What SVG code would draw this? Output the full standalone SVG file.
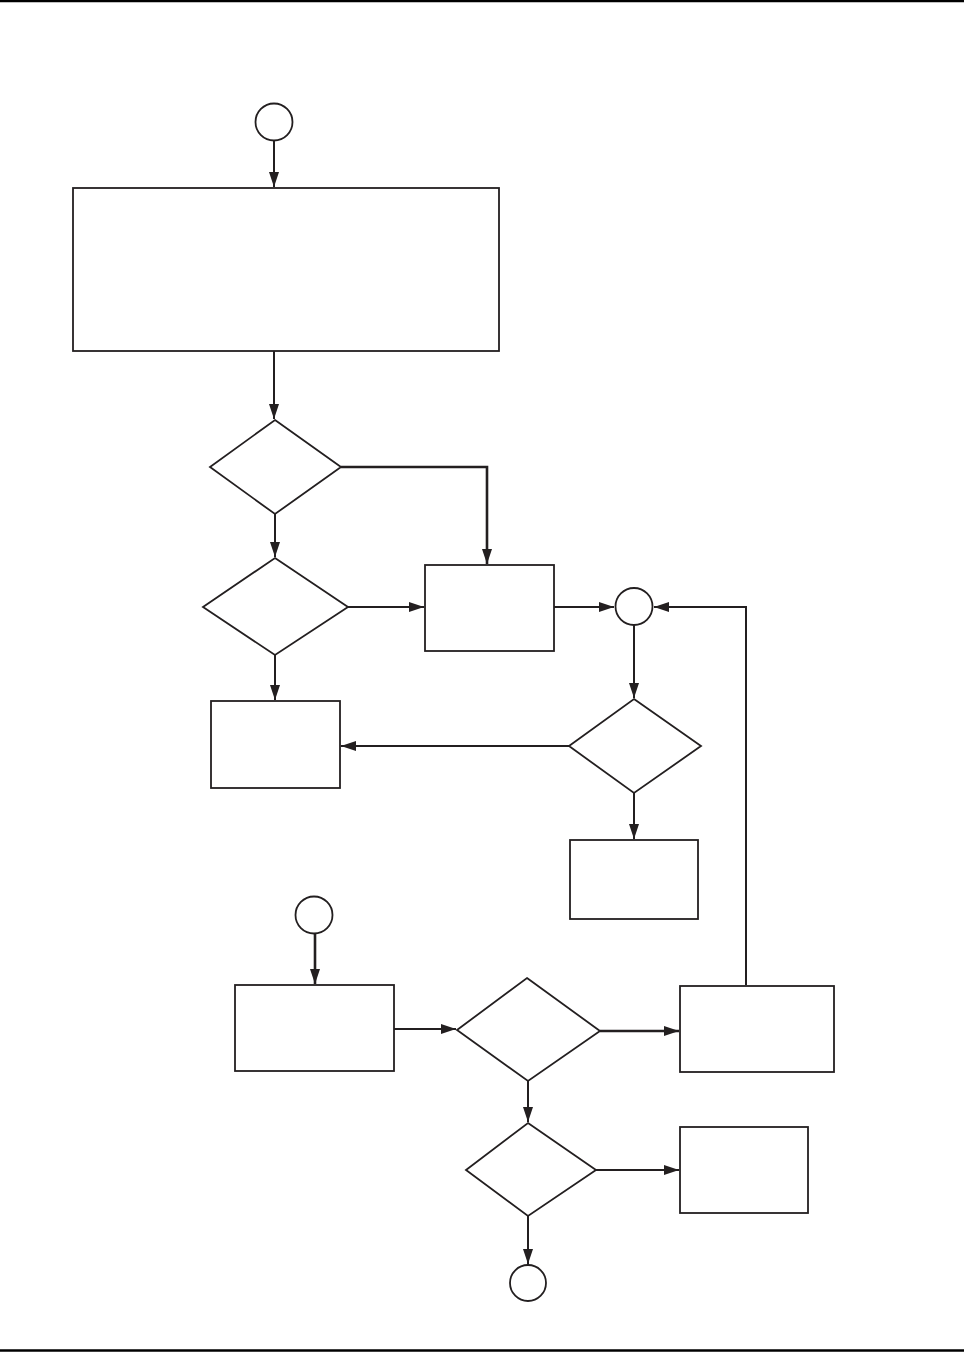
<svg xmlns="http://www.w3.org/2000/svg" width="964" height="1352" viewBox="0 0 964 1352">
<style>
.n{fill:#fff;stroke:#231f20;stroke-width:1.8}
.c{fill:none;stroke:#231f20;stroke-width:2}
.t{stroke-width:2.6}
.rule{stroke:#000;stroke-width:2.5}
</style>
<defs>
<marker id="ah" markerUnits="userSpaceOnUse" markerWidth="16" markerHeight="12" refX="15" refY="5" orient="auto">
<path d="M0,0 L15,5 L0,10 Z" fill="#231f20"/>
</marker>
</defs>
<rect width="964" height="1352" fill="#fff"/>
<line class="rule" x1="0" y1="1" x2="964" y2="1"/>
<line class="rule" x1="0" y1="1350.5" x2="964" y2="1350.5"/>
<g id="connectors">
<path class="c" d="M274,140 V187" marker-end="url(#ah)"/>
<path class="c" d="M274,351 V419" marker-end="url(#ah)"/>
<path class="c t" d="M341,467 H487 V564" marker-end="url(#ah)"/>
<path class="c" d="M275,514 V557" marker-end="url(#ah)"/>
<path class="c" d="M348,607 H424" marker-end="url(#ah)"/>
<path class="c" d="M275,655 V700" marker-end="url(#ah)"/>
<path class="c" d="M554,607 H614" marker-end="url(#ah)"/>
<path class="c" d="M746,985 V607 H654" marker-end="url(#ah)"/>
<path class="c" d="M634,625 V698" marker-end="url(#ah)"/>
<path class="c" d="M569,746 H341" marker-end="url(#ah)"/>
<path class="c" d="M634,793 V839" marker-end="url(#ah)"/>
<path class="c t" d="M315,934 V984" marker-end="url(#ah)"/>
<path class="c" d="M394,1029 H456" marker-end="url(#ah)"/>
<path class="c t" d="M600,1031 H679" marker-end="url(#ah)"/>
<path class="c" d="M528,1081 V1122" marker-end="url(#ah)"/>
<path class="c" d="M596,1170 H679" marker-end="url(#ah)"/>
<path class="c" d="M528,1216 V1264" marker-end="url(#ah)"/>
</g>
<g id="start1"><circle class="n" cx="274" cy="122" r="18.5"/></g>
<g id="box1"><rect class="n" x="73" y="188" width="426" height="163"/></g>
<g id="dec1"><polygon class="n" points="275,420 341,467 275,514 210,467"/></g>
<g id="dec2"><polygon class="n" points="275,558 348,607 275,655 203,607"/></g>
<g id="box2"><rect class="n" x="425" y="565" width="129" height="86"/></g>
<g id="join1"><circle class="n" cx="634" cy="606.5" r="18.5"/></g>
<g id="dec3"><polygon class="n" points="634,699 701,746 634,793 569,746"/></g>
<g id="box3"><rect class="n" x="211" y="701" width="129" height="87"/></g>
<g id="box4"><rect class="n" x="570" y="840" width="128" height="79"/></g>
<g id="start2"><circle class="n" cx="314" cy="915" r="18.5"/></g>
<g id="box5"><rect class="n" x="235" y="985" width="159" height="86"/></g>
<g id="dec4"><polygon class="n" points="527,978 600,1031 528,1081 457,1030"/></g>
<g id="box6"><rect class="n" x="680" y="986" width="154" height="86"/></g>
<g id="dec5"><polygon class="n" points="528,1123 596,1170 528,1216 466,1170"/></g>
<g id="box7"><rect class="n" x="680" y="1127" width="128" height="86"/></g>
<g id="end1"><circle class="n" cx="528" cy="1283" r="18"/></g>
</svg>
